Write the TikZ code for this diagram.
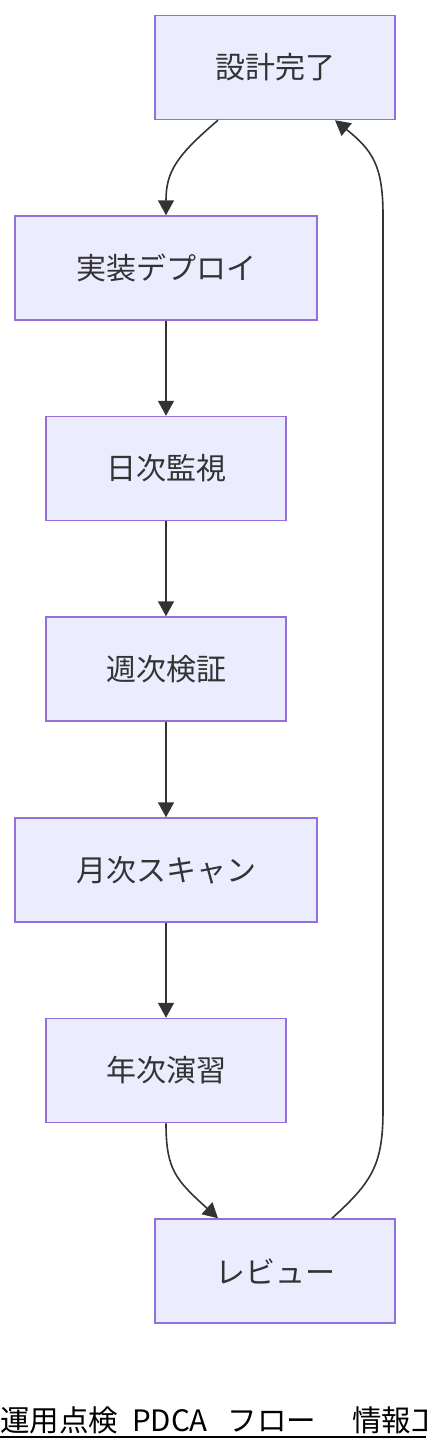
\documentclass[tikz,border=0pt]{standalone}
\usepackage{fontspec}
\usepackage{tikz}
\usetikzlibrary{arrows.meta}
\usetikzlibrary{positioning}
\newfontfamily\jpfont{Noto Sans CJK JP}
\definecolor{boxfill}{HTML}{ECECFF}
\definecolor{boxline}{HTML}{9370DB}
\definecolor{ink}{HTML}{333333}

\tikzset{
    stage/.style={draw=boxline, fill=boxfill, line width=1.5pt, text=ink,
        font=\jpfont\fontsize{30}{32}\selectfont, inner sep=0pt,
        minimum width=240pt, minimum height=104pt},
    widestage/.style={stage, minimum width=302pt},
    flow/.style={draw=ink, line width=1.6pt,
        -{Triangle[length=15pt,width=16pt]}}
}

\begin{document}
\begin{tikzpicture}[x=1pt, y=-1pt]
    \useasboundingbox (0,0) rectangle (426,1452);
    \clip (0,0) rectangle (426,1452);

    \node[stage] (design) at (275,67.5) {設計完了};
    \node[widestage] (deploy) at (166,268) {実装デプロイ};
    \node[stage] (daily) at (166,468.5) {日次監視};
    \node[stage] (weekly) at (166,669) {週次検証};
    \node[widestage] (monthly) at (166,870) {月次スキャン};
    \node[stage] (yearly) at (166,1070.5) {年次演習};
    \node[stage] (review) at (275,1271) {レビュー};

    \draw[flow] ([xshift=-57pt]design.south) .. controls (176,156) and (166,172) .. (deploy.north);
    \draw[flow] (deploy) -- (daily);
    \draw[flow] (daily) -- (weekly);
    \draw[flow] (weekly) -- (monthly);
    \draw[flow] (monthly) -- (yearly);
    \draw[flow] (yearly.south) .. controls (166,1170) and (176,1180) .. ([xshift=-57pt]review.north);

    % return path on the right
    \coordinate (backlow) at (383,1110);
    \coordinate (backhigh) at (383,215);
    \draw[flow] ([xshift=57pt]review.north) .. controls (372,1182) and (383,1165) .. (backlow)
        -- (backhigh) .. controls (383,165) and (372,150) .. ([xshift=60pt]design.south);

    \node[anchor=base west, inner sep=0pt, text=black,
        font=\jpfont\fontsize{29.5}{30}\selectfont] (title) at (0,1431)
        {運用点検\hspace{14pt}PDCA\hspace{20pt}フロー\hspace{36pt}情報工};
    \draw[line width=2pt] (0,1437) -- (426,1437);
\end{tikzpicture}
\end{document}
